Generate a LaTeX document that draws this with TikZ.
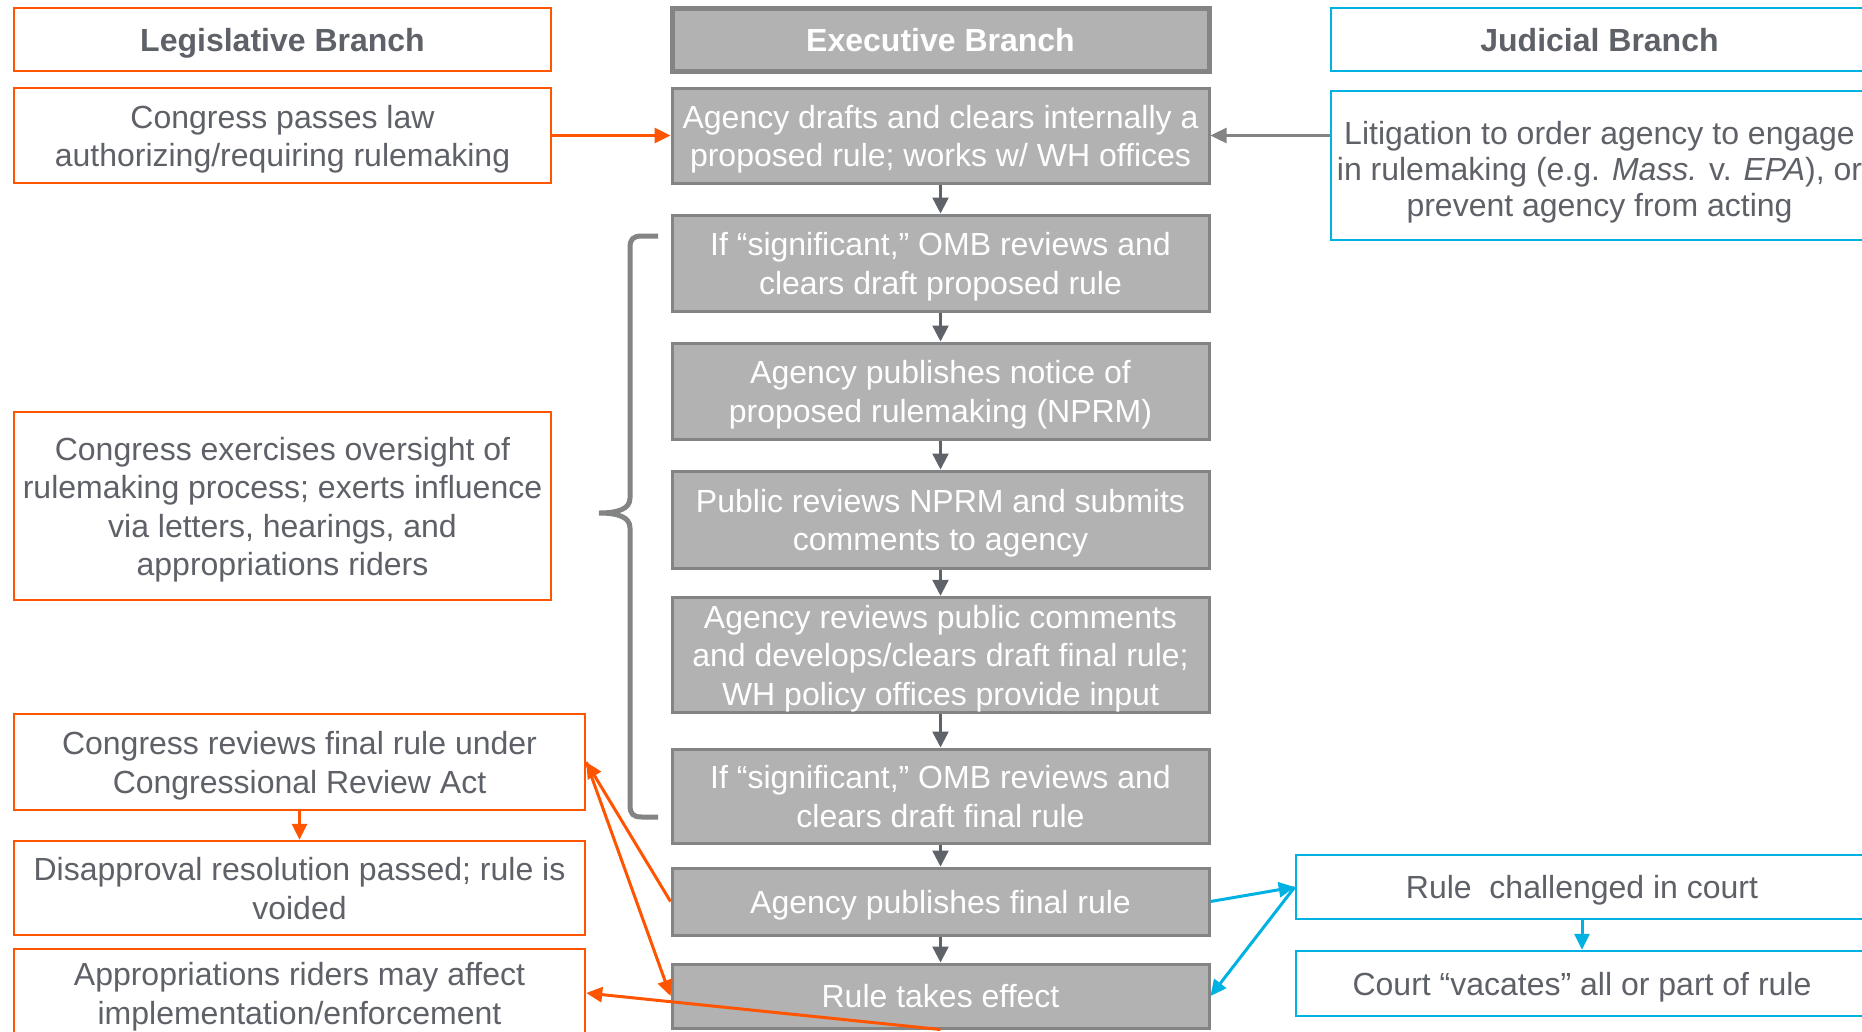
\documentclass[tikz,border=0pt]{standalone}
\usepackage{fontspec}
\setmainfont{Liberation Sans}
\usetikzlibrary{arrows.meta,calc}
\definecolor{orng}{HTML}{FF5500}
\definecolor{jblue}{HTML}{00B2E2}
\definecolor{gfill}{HTML}{B1B2B1}
\definecolor{gline}{HTML}{838484}
\definecolor{txt}{HTML}{5E6168}
\definecolor{arrg}{HTML}{5F6369}
\newcommand\lnstrut{\rule[-7.35pt]{0pt}{38.5pt}}
\newcommand\litstrut{\rule{0pt}{37.5pt}}
\begin{document}
\begin{tikzpicture}[x=1pt,y=-1pt,
  base/.style={inner sep=0pt, align=center, font=\fontsize{32}{38.5}\selectfont},
  obox/.style={base, draw=orng, line width=2.5pt, fill=white, text=txt},
  bbox/.style={base, draw=jblue, line width=2.5pt, fill=white, text=txt},
  gbox/.style={base, draw=gline, line width=3pt, fill=gfill, text=white},
  hdr/.style={font=\bfseries\fontsize{32}{38.5}\selectfont},
  tip/.style={-{Triangle[length=16pt,width=15pt]}},
  oarr/.style={draw=orng, line width=3pt, tip},
  barr/.style={draw=jblue, line width=3pt, tip},
  garr/.style={draw=arrg, line width=2.5pt, -{Triangle[length=16pt,width=16pt]}},
  larr/.style={draw=gline, line width=2.5pt, tip}]
\useasboundingbox (0,0) rectangle (1862,1031);
\fill[white] (0,0) rectangle (1862,1031);

% headers
\node[obox, hdr, minimum width=537pt, minimum height=63pt] (legH) at (282.5,39.5) {\lnstrut Legislative Branch};
\node[gbox, hdr, line width=5pt, minimum width=537pt, minimum height=63pt] (exeH) at (940.5,39.5) {\lnstrut Executive Branch};
\node[bbox, hdr, minimum width=537pt, minimum height=63pt] (judH) at (1599.5,39.5) {\lnstrut Judicial Branch};

% executive column
\node[gbox, minimum width=537pt, minimum height=95pt] (drafts) at (940.5,135.5) {\lnstrut Agency drafts and clears internally a\\\lnstrut proposed rule; works w/ WH offices};
\node[gbox, minimum width=537pt, minimum height=96pt] (sig1) at (940.5,263) {\lnstrut If “significant,” OMB reviews and\\\lnstrut clears draft proposed rule};
\node[gbox, minimum width=537pt, minimum height=96pt] (nprm) at (940.5,391) {\lnstrut Agency publishes notice of\\\lnstrut proposed rulemaking (NPRM)};
\node[gbox, minimum width=537pt, minimum height=97pt] (pub) at (940.5,519.5) {\lnstrut Public reviews NPRM and submits\\\lnstrut comments to agency};
\node[gbox, minimum width=537pt, minimum height=110pt] (arev) at (940.5,655) {\lnstrut Agency reviews public comments\\\lnstrut and develops/clears draft final rule;\\\lnstrut WH policy offices provide input};
\node[gbox, minimum width=537pt, minimum height=94pt] (sig2) at (940.5,796) {\lnstrut If “significant,” OMB reviews and\\\lnstrut clears draft final rule};
\node[gbox, minimum width=537pt, minimum height=67pt] (afinal) at (940.5,901.5) {\lnstrut Agency publishes final rule};
\node[gbox, minimum width=537pt, minimum height=64pt] (effect) at (940.5,996) {\lnstrut Rule takes effect};

% legislative column
\node[obox, minimum width=537pt, minimum height=95pt] (congress) at (282.5,135.5) {\lnstrut Congress passes law\\\lnstrut authorizing/requiring rulemaking};
\node[obox, minimum width=537pt, minimum height=188pt] (oversight) at (282.5,506) {\lnstrut Congress exercises oversight of\\\lnstrut rulemaking process; exerts influence\\\lnstrut via letters, hearings, and\\\lnstrut appropriations riders};
\node[obox, minimum width=571pt, minimum height=96pt] (cra) at (299.5,762) {\lnstrut Congress reviews final rule under\\\lnstrut Congressional Review Act};
\node[obox, minimum width=571pt, minimum height=94pt] (disapp) at (299.5,888) {\lnstrut Disapproval resolution passed; rule is\\\lnstrut voided};
\node[obox, minimum width=571pt, minimum height=88pt] (approp) at (299.5,993) {\lnstrut Appropriations riders may affect\\\lnstrut implementation/enforcement};

% judicial column
\node[bbox, minimum width=537pt, minimum height=149pt, font=\fontsize{32}{36}\selectfont] (lit) at (1599.5,165.5) {\litstrut Litigation to order agency to engage\\in rulemaking (e.g. \textit{Mass.} v. \textit{EPA}), or\\prevent agency from acting};
\node[bbox, minimum width=572pt, minimum height=64pt] (chal) at (1582,887) {\lnstrut Rule\ \ challenged in court};
\node[bbox, minimum width=572pt, minimum height=65pt] (vac) at (1582,983.5) {\lnstrut Court “vacates” all or part of rule};

% executive flow
\draw[garr] (drafts) -- (sig1);
\draw[garr] (sig1) -- (nprm);
\draw[garr] (nprm) -- (pub);
\draw[garr] (pub) -- (arev);
\draw[garr] (arev) -- (sig2);
\draw[garr] (sig2) -- (afinal);
\draw[garr] (afinal) -- (effect);

% cross-branch connectors
\draw[oarr] (congress) -- (drafts);
\draw[larr] (drafts.east -| lit.west) -- (drafts.east);
\draw[oarr] (cra) -- (disapp);
\draw[oarr] (afinal.west) -- (cra.east);
\draw[oarr] (cra.east) -- (effect.west);
\draw[oarr] (effect.south) -- (approp.east);
\draw[barr] (afinal.east) -- (chal.west);
\draw[barr] (chal.west) -- (effect.east);
\draw[barr] (chal) -- (vac);

% brace
\draw[gline, line width=5pt]
  (658,236) -- (642,236) .. controls (633,236) and (630,239) .. (630,248)
  -- (630,498) .. controls (630,509) and (618,513) .. (599,513)
  .. controls (618,513) and (630,517) .. (630,528)
  -- (630,805) .. controls (630,814) and (633,817) .. (642,817) -- (658,817);
\end{tikzpicture}
\end{document}
